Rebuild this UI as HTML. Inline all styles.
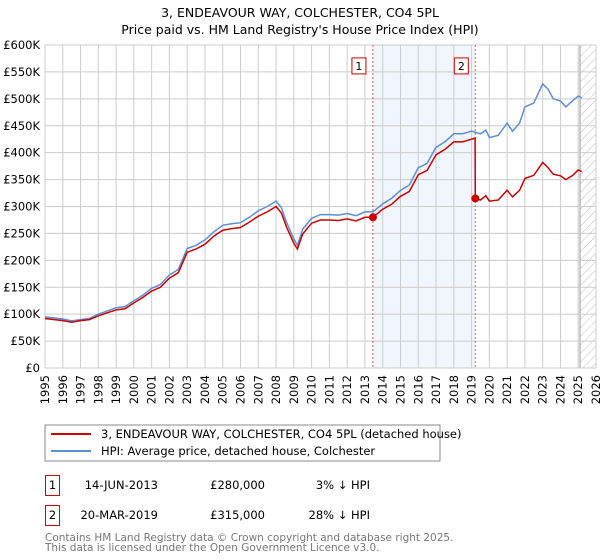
<!DOCTYPE html>
<html><head><meta charset="utf-8"><style>
body{margin:0;background:#fff;font-family:"Liberation Sans","DejaVu Sans",sans-serif;}
#wrap{position:relative;width:600px;height:560px;overflow:hidden;}
</style></head><body>
<div id="wrap">
<svg id="svg" width="600" height="560" xmlns="http://www.w3.org/2000/svg" font-family="DejaVu Sans, Liberation Sans, sans-serif">
<text x="300" y="17" text-anchor="middle" font-size="12.5" fill="#000">3, ENDEAVOUR WAY, COLCHESTER, CO4 5PL</text>
<text x="300" y="34" text-anchor="middle" font-size="12.5" fill="#000">Price paid vs. HM Land Registry's House Price Index (HPI)</text>
<defs><pattern id="hatch" width="6" height="6" patternUnits="userSpaceOnUse" patternTransform="rotate(45)"><line x1="0" y1="0" x2="0" y2="6" stroke="#bbb" stroke-width="1"/></pattern></defs>
<g id="plot"></g>
<rect x="45" y="425" width="395" height="36" fill="#fff" stroke="#888"/>
<line x1="51" y1="434" x2="91" y2="434" stroke="#cc0000" stroke-width="2"/>
<text x="101" y="438" font-size="11.5">3, ENDEAVOUR WAY, COLCHESTER, CO4 5PL (detached house)</text>
<line x1="51" y1="451" x2="91" y2="451" stroke="#5b8fd4" stroke-width="2"/>
<text x="101" y="455" font-size="11.5">HPI: Average price, detached house, Colchester</text>
<g font-size="11.5">
<rect x="45.5" y="475.5" width="14" height="20" fill="#fff" stroke="#cc0000"/>
<text x="52.5" y="489" text-anchor="middle">1</text>
<text x="158" y="489" text-anchor="end">14-JUN-2013</text>
<text x="265" y="489" text-anchor="end">£280,000</text>
<text x="370" y="489" text-anchor="end">3% ↓ HPI</text>
<rect x="45.5" y="505.5" width="14" height="20" fill="#fff" stroke="#cc0000"/>
<text x="52.5" y="519" text-anchor="middle">2</text>
<text x="158" y="519" text-anchor="end">20-MAR-2019</text>
<text x="265" y="519" text-anchor="end">£315,000</text>
<text x="370" y="519" text-anchor="end">28% ↓ HPI</text>
</g>
<text x="45" y="541" font-size="10.5" fill="#777">Contains HM Land Registry data © Crown copyright and database right 2025.</text>
<text x="45" y="551" font-size="10.5" fill="#777">This data is licensed under the Open Government Licence v3.0.</text>
</svg>
</div>
<script>
const yearTicks=[1995,1996,1997,1998,1999,2000,2001,2002,2003,2004,2005,2006,2007,2008,2009,2010,2011,2012,2013,2014,2015,2016,2017,2018,2019,2020,2021,2022,2023,2024,2025,2026];
const valueTicks=[0,50000,100000,150000,200000,250000,300000,350000,400000,450000,500000,550000,600000];
const valueTickLabels=["£0","£50K","£100K","£150K","£200K","£250K","£300K","£350K","£400K","£450K","£500K","£550K","£600K"];
const hpiYears=[1995,1996,1996.5,1997,1997.5,1998,1999,1999.5,2000,2000.5,2001,2001.5,2002,2002.5,2003,2003.5,2004,2004.5,2005,2005.5,2006,2006.5,2007,2007.5,2008,2008.3,2008.6,2009,2009.2,2009.5,2010,2010.5,2011,2011.5,2012,2012.5,2013,2013.45,2014,2014.5,2015,2015.5,2016,2016.5,2017,2017.5,2018,2018.5,2019,2019.5,2019.8,2020,2020.5,2021,2021.3,2021.7,2022,2022.5,2023,2023.3,2023.6,2024,2024.3,2024.7,2025,2025.2];
const hpiValues=[95,91,87.5,90,92,100,112,114,125,135,148,155,173,183,222,228,238,253,265,268,270,280,292,300,310,298,270,240,228,258,278,285,285,284,287,283,290,290,305,315,330,340,372,380,410,420,435,435,440,435,442,428,432,455,440,455,485,492,528,518,500,496,485,497,505,502];
const priceYears=[1995,1996,1996.5,1997,1997.5,1998,1999,1999.5,2000,2000.5,2001,2001.5,2002,2002.5,2003,2003.5,2004,2004.5,2005,2005.5,2006,2006.5,2007,2007.5,2008,2008.3,2008.6,2009,2009.2,2009.5,2010,2010.5,2011,2011.5,2012,2012.5,2013,2013.45,2014,2014.5,2015,2015.5,2016,2016.5,2017,2017.5,2018,2018.5,2019,2019.2,2019.21,2019.5,2019.8,2020,2020.5,2021,2021.3,2021.7,2022,2022.5,2023,2023.3,2023.6,2024,2024.3,2024.7,2025,2025.2];
const priceValues=[92,88,85,88,90,97,108,110,121,131,143,150,167,177,215,221,230,245,256,259,261,271,282,290,300,288,261,232,221,249,269,275,275,274,277,273,280,280,295,304,319,328,359,367,396,406,420,420,425,427,315,312,320,310,312,330,318,330,352,358,382,372,360,357,350,358,368,365];
const saleYears=[2013.45,2019.21];
const saleValues=[280000,315000];
const saleLabels=["1","2"];

const X0=45,X1=596,Y0=368,Y1=45;
const xs=y=>X0+(y-1995)/(2026-1995)*(X1-X0);
const ys=v=>Y0-v/600000*(Y0-Y1);
const NS="http://www.w3.org/2000/svg";
const plot=document.getElementById('plot');
function mk(tag,attrs,parent){const e=document.createElementNS(NS,tag);for(const k in attrs)e.setAttribute(k,attrs[k]);(parent||plot).appendChild(e);return e;}

let bg=mk('rect',{x:X0,y:Y1,width:X1-X0,height:Y0-Y1,fill:'#fff'});


let shade=mk('rect',{x:xs(saleYears[0]),y:Y1,width:xs(saleYears[1])-xs(saleYears[0]),height:Y0-Y1,fill:'#eef3fc',opacity:0.8});


let hatch=mk('rect',{x:xs(2025.1),y:Y1,width:X1-xs(2025.1),height:Y0-Y1,fill:'url(#hatch)'});


mk('line',{x1:xs(2025.1),y1:Y1,x2:xs(2025.1),y2:Y0,stroke:'#999','stroke-width':1});

yearTicks.forEach(y=>{
  const x=xs(y);
  let l=mk('line',{x1:x,y1:Y1,x2:x,y2:Y0,stroke:'#ccc','stroke-width':1});
  
  
  let t=mk('text',{x:0,y:0,transform:`translate(${x+4},${Y0+7}) rotate(-90)`,'text-anchor':'end','font-size':11.5});
  t.textContent=y;
  
  
});
valueTicks.forEach((v,i)=>{
  const y=ys(v);
  let l=mk('line',{x1:X0,y1:y,x2:X1,y2:y,stroke:'#ccc','stroke-width':1});
  
  
  let t=mk('text',{x:40,y:y+4,'text-anchor':'end','font-size':11.5});
  t.textContent=valueTickLabels[i];
  
  
});
mk('line',{x1:X0,y1:Y1,x2:X0,y2:Y0,stroke:'#ccc'});
mk('line',{x1:X0,y1:Y0,x2:X1,y2:Y0,stroke:'#ccc'});

saleYears.forEach((sy,i)=>{
  let d=mk('line',{x1:xs(sy),y1:Y1,x2:xs(sy),y2:Y0,stroke:'#e55','stroke-width':1,'stroke-dasharray':'2,2'});
  
  
  let b=mk('rect',{x:xs(sy)-21,y:ys(563000)-7,width:14,height:16,fill:'#fff',stroke:'#cc0000'});
  
  
  let t=mk('text',{x:xs(sy)-14,y:ys(563000)+5,'text-anchor':'middle','font-size':11});
  t.textContent=saleLabels[i];
  
  
});

const pts=(yr,vals)=>yr.map((y,i)=>xs(y).toFixed(1)+','+ys(vals[i]*1000).toFixed(1)).join(' ');
let hpi=mk('polyline',{points:pts(hpiYears,hpiValues),fill:'none',stroke:'#5b8fd4','stroke-width':1.5});


let pr=mk('polyline',{points:pts(priceYears,priceValues),fill:'none',stroke:'#cc0000','stroke-width':1.5});


saleYears.forEach((sy,i)=>{
  let c=mk('circle',{cx:xs(sy),cy:ys(saleValues[i]),r:4,fill:'#cc0000'});
  
  
});
</script>
</body></html>
